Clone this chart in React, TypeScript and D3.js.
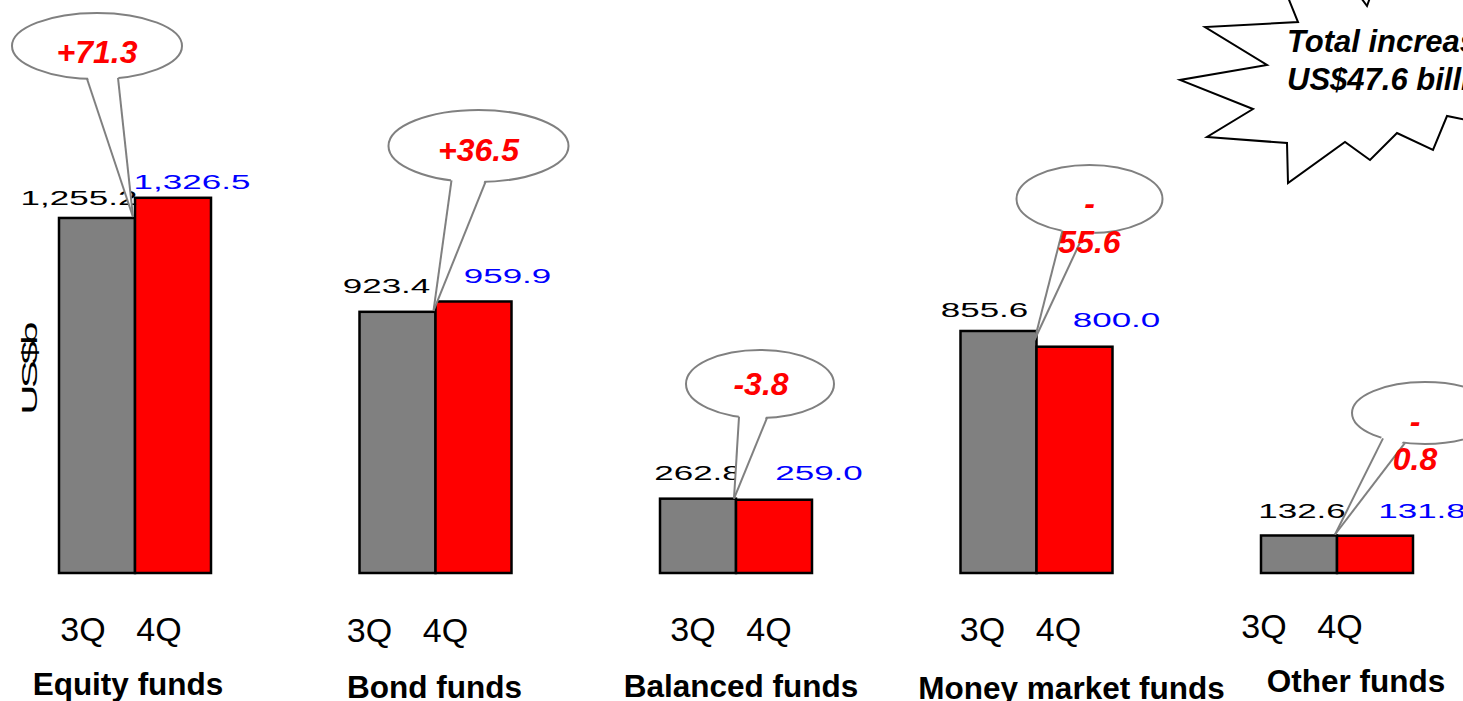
import React from 'react';
import * as d3 from 'd3';

// Fund assets by category, end of 3Q vs end of 4Q (US$ billions)
const categories = ['Equity funds', 'Bond funds', 'Balanced funds', 'Money market funds', 'Other funds'];
const periods = ['3Q', '4Q'];
const q3Values = [1255.2, 923.4, 262.8, 855.6, 132.6];
const q4Values = [1326.5, 959.9, 259.0, 800.0, 131.8];
const yAxisLabel = 'US$b';

// Layout tweaks per group (pixels)
const label3Offset = [[-18, -13], [-11, -19], [0, -19], [-14, -14], [3, -17]];
const label4Offset = [[19, -9], [34, -18], [45, -20], [42, -20], [47, -18]];
const tickShift = [-14, -28, -5, -16, -35];
const tickBaseline = [641, 642, 641, 641, 638];
const catShift = [-6, 0, 6, 36, 20];
const catBaseline = [695, 698, 697, 699, 692];
// callout bubbles: centre offset from group, centre y, radii, tail base offsets, text baselines, wrap
const bubbles = [
  { dx: -37, cy: 46, rx: 85, ry: 33, base: [-10, 21], tipDy: -1, textDx: 0, lines: [63], wrap: false },
  { dx: 44, cy: 146, rx: 90, ry: 36, base: [-27, 7], tipDy: -1, textDx: 0, lines: [161], wrap: false },
  { dx: 25, cy: 384, rx: 74, ry: 34, base: [-21, 7], tipDy: 0, textDx: 1, lines: [395], wrap: false },
  { dx: 54, cy: 199, rx: 73, ry: 34, base: [-27, -5], tipDy: 9, textDx: 0, lines: [214, 253], wrap: true },
  { dx: 89, cy: 413, rx: 73, ry: 31, base: [-42, -20], tipDy: -1, textDx: -10, lines: [432, 470], wrap: true },
];

// jagged "explosion" outline behind the total note
const burst: [number, number][] = [
  [1283, -15], [1298, 22], [1205, 27], [1267, 65], [1180, 80], [1253, 109], [1207, 137],
  [1287, 143], [1288, 183], [1345, 142], [1370, 160], [1397, 133], [1433, 150], [1447, 116],
  [1490, 125], [1520, 60], [1500, -30], [1372, -8], [1367, 6], [1348, -20],
];

const FONT = '"Liberation Sans", Arial, Helvetica, sans-serif';

export default function App() {
  const W = 1463;
  const H = 701;
  const x = d3.scalePoint<string>().domain(categories).range([134, 1336]);
  const xi = d3.scaleBand<string>().domain(periods).range([-75, 77]);
  const y = d3.scaleLinear().domain([0, 1400]).range([573, 177]);
  const fmt = d3.format(',.1f');

  const deltas = categories.map((_, i) => q4Values[i] - q3Values[i]);
  const total = d3.sum(deltas);
  const deltaText = (d: number) => (d >= 0 ? '+' : '-') + Math.abs(d).toFixed(1);
  const totalLines = [total >= 0 ? 'Total increase of' : 'Total decrease of', `US$${Math.abs(total).toFixed(1)} billion`];

  const burstPath = d3.line()(burst) + 'Z';
  const bw = xi.bandwidth();

  return (
    <svg width={W} height={H} style={{ position: 'absolute', left: 0, top: 0, background: '#fff' }} fontFamily={FONT}>
      <rect x={0} y={0} width={W} height={H} fill="#fff" />

      {/* total change note */}
      <path d={burstPath} fill="#fff" stroke="#000" strokeWidth={2} strokeLinejoin="miter" />
      {totalLines.map((t, k) => (
        <text key={k} x={1287} y={52 + k * 38} fontSize={31} fontWeight="bold" fontStyle="italic" fill="#000">{t}</text>
      ))}

      {/* y axis title */}
      <text transform={`translate(37,370) rotate(-90) scale(1.9,1)`} textAnchor="middle" fontSize={22} fill="#000" letterSpacing={-2}>
        {yAxisLabel}
      </text>

      {categories.map((cat, i) => {
        const c = x(cat)!;
        const vals = [q3Values[i], q4Values[i]];
        return (
          <g key={cat}>
            {periods.map((p, j) => (
              <rect
                key={p}
                x={c + xi(p)!}
                y={y(vals[j])}
                width={bw}
                height={y(0) - y(vals[j])}
                fill={j === 0 ? '#808080' : '#ff0000'}
                stroke="#000"
                strokeWidth={2.5}
              />
            ))}
            {/* value labels */}
            <text
              transform={`translate(${c + xi('3Q')! + bw / 2 + label3Offset[i][0]},${y(vals[0]) + label3Offset[i][1]}) scale(1.75,1)`}
              textAnchor="middle" fontSize={20} fill="#000"
            >{fmt(vals[0])}</text>
            <text
              transform={`translate(${c + xi('4Q')! + bw / 2 + label4Offset[i][0]},${y(vals[1]) + label4Offset[i][1]}) scale(1.75,1)`}
              textAnchor="middle" fontSize={20} fill="#0000ff"
            >{fmt(vals[1])}</text>
            {/* period ticks */}
            {periods.map((p) => (
              <text key={p} x={c + xi(p)! + bw / 2 + tickShift[i]} y={tickBaseline[i]} textAnchor="middle" fontSize={34} fill="#000">{p}</text>
            ))}
            <text x={c + catShift[i]} y={catBaseline[i]} textAnchor="middle" fontSize={31.5} fontWeight="bold" fill="#000">{cat}</text>
          </g>
        );
      })}

      {/* change callouts */}
      {categories.map((cat, i) => {
        const b = bubbles[i];
        const c = x(cat)!;
        const cx = c + b.dx;
        const tipX = c - 1;
        const tipY = y(q3Values[i]) + b.tipDy;
        const baseY = (dx: number) => b.cy + b.ry * Math.sqrt(1 - (dx / b.rx) ** 2);
        const [l, r] = b.base;
        const cover = `M${cx + l},${baseY(l) - 4}L${tipX},${tipY}L${cx + r},${baseY(r) - 4}Z`;
        const txt = deltaText(deltas[i]);
        const parts = b.wrap ? [txt[0], txt.slice(1)] : [txt];
        return (
          <g key={'b' + cat}>
            <ellipse cx={cx} cy={b.cy} rx={b.rx} ry={b.ry} fill="#fff" stroke="#808080" strokeWidth={2} />
            <path d={cover} fill="#fff" stroke="none" />
            <line x1={cx + l} y1={baseY(l)} x2={tipX} y2={tipY} stroke="#808080" strokeWidth={2} />
            <line x1={cx + r} y1={baseY(r)} x2={tipX} y2={tipY} stroke="#808080" strokeWidth={2} />
            {parts.map((t, k) => (
              <text key={k} x={cx + b.textDx} y={b.lines[k]} textAnchor="middle" fontSize={32} fontWeight="bold" fontStyle="italic" fill="#ff0000">{t}</text>
            ))}
          </g>
        );
      })}
    </svg>
  );
}
